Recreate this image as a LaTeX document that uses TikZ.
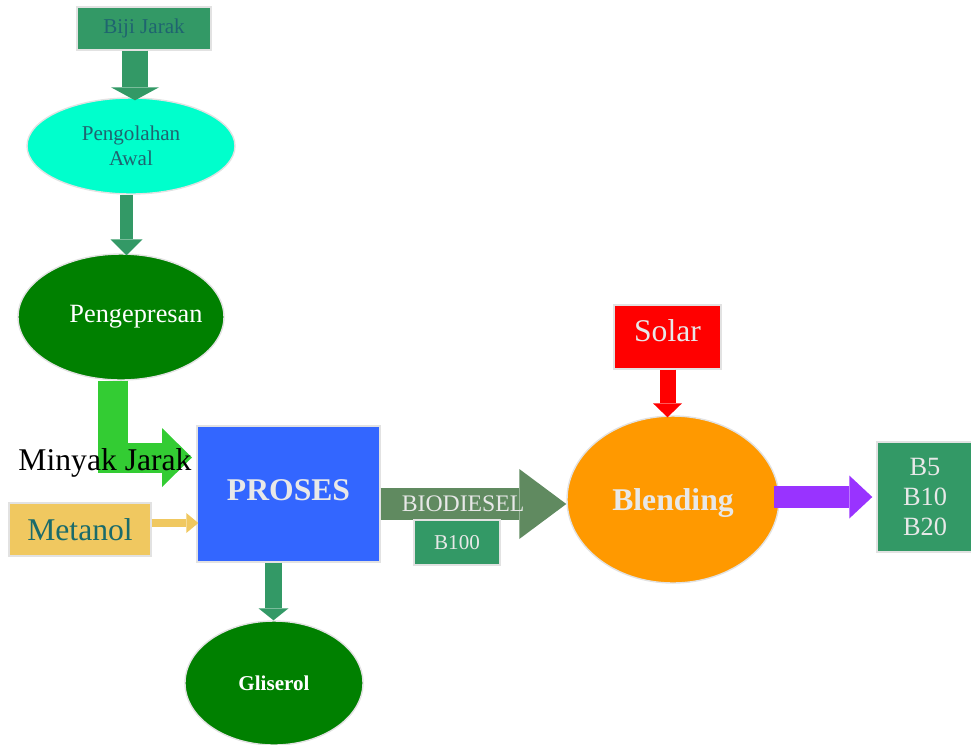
\documentclass[tikz,border=0pt]{standalone}
\usepackage{fontspec}
\setmainfont{Liberation Serif}
\usetikzlibrary{shapes.geometric,arrows.meta}

\definecolor{seagreen}{HTML}{339966}
\definecolor{aqua}{HTML}{00FFCC}
\definecolor{dgreen}{HTML}{008000}
\definecolor{lgreen}{HTML}{33CC33}
\definecolor{pblue}{HTML}{3366FF}
\definecolor{sand}{HTML}{F0C860}
\definecolor{olive}{HTML}{608A60}
\definecolor{amber}{HTML}{FF9900}
\definecolor{violet}{HTML}{9933FF}
\definecolor{pale}{HTML}{E8E8E8}
\definecolor{rim}{HTML}{E2E2E2}
\definecolor{tealtext}{HTML}{1F6470}
\definecolor{metatext}{HTML}{1A6B6B}

\begin{document}
\begin{tikzpicture}[align=center,
    box/.style={draw=rim, line width=0.8pt, rectangle, inner sep=0pt},
    oval/.style={draw=rim, line width=0.8pt, ellipse, inner sep=0pt},
    flow/.style={line width=#1, line join=miter}]
      \useasboundingbox (0,0) rectangle (19.42,-14.88);
      % raw material side
      \node[box, fill=seagreen, minimum width=2.68cm, minimum height=0.86cm, text=tealtext, font=\fontsize{12}{14}\selectfont] (biji) at (2.88,-0.57) {Biji Jarak};
      \node[oval, fill=aqua, minimum width=4.16cm, minimum height=1.92cm, text=tealtext, font=\fontsize{12}{14}\selectfont] (pengolahan) at (2.62,-2.92) {Pengolahan\\ Awal};
      \node[oval, fill=dgreen, minimum width=4.12cm, minimum height=2.52cm, text=white, font=\fontsize{15}{18}\selectfont] (pengepresan) at (2.42,-6.34) {\makebox[0pt]{\hspace*{0.6cm}Pengepresan}};
      \node[box, fill=pblue, minimum width=3.66cm, minimum height=2.72cm, text depth=0.14cm, text=pale, font=\bfseries\fontsize{18}{21}\selectfont] (proses) at (5.77,-9.88) {PROSES};
      \node[box, fill=sand, minimum width=2.84cm, minimum height=1.06cm, text=metatext, font=\fontsize{18}{21}\selectfont] (metanol) at (1.6,-10.59) {Metanol};
      \node[oval, fill=dgreen, minimum width=3.56cm, minimum height=2.48cm, text=white, font=\bfseries\fontsize{12}{14}\selectfont] (gliserol) at (5.48,-13.66) {Gliserol};

      % blending side
      \node[oval, fill=amber, minimum width=4.24cm, minimum height=3.34cm, text depth=0pt, text=pale, font=\bfseries\fontsize{18}{21}\selectfont] (blending) at (13.46,-9.99) {Blending};
      \node[box, fill=red, minimum width=2.14cm, minimum height=1.28cm, text depth=0.24cm, text=pale, font=\fontsize{18}{21}\selectfont] (solar) at (13.35,-6.74) {Solar};
      \node[box, fill=seagreen, minimum width=1.92cm, minimum height=2.2cm, text=pale, font=\fontsize{15}{17}\selectfont] (bvals) at (18.5,-9.94) {B5\\ B10\\ B20};

      \coordinate (mj) at (3.84,-9.15);

      \draw[flow=0.52cm, seagreen, -{Triangle[length=0.26cm, width=0.96cm, line width=0pt]}] ([xshift=-0.18cm]biji.south) -- ([xshift=-0.18cm, yshift=-0.06cm]biji.south |- pengolahan.north);
      \draw[flow=0.26cm, seagreen, -{Triangle[length=0.32cm, width=0.64cm, line width=0pt]}] ([xshift=-0.09cm]pengolahan.south) -- ([xshift=-0.09cm, yshift=-0.04cm]pengolahan.south |- pengepresan.north);
      \draw[flow=0.6cm, lgreen, -{Triangle[length=0.6cm, width=1.18cm, line width=0pt]}] ([xshift=-0.17cm]pengepresan.south) |- (mj);
      \draw[flow=0.16cm, sand, -{Triangle[length=0.24cm, width=0.4cm, line width=0pt]}] ([yshift=0.13cm]metanol.east) -- ([xshift=0.04cm, yshift=0.13cm]metanol.east -| proses.west);
      \draw[flow=0.34cm, seagreen, -{Triangle[length=0.24cm, width=0.6cm, line width=0pt]}] ([xshift=-0.3cm]proses.south) -- ([xshift=-0.3cm]proses.south |- gliserol.north);
      \draw[flow=0.64cm, olive, -{Triangle[length=0.94cm, width=1.4cm, line width=0pt]}] ([yshift=-0.2cm]proses.east) -- node[pos=0.444, text=pale, font=\fontsize{13.5}{16}\selectfont] (biodiesel) {BIODIESEL} ([yshift=-0.2cm]proses.east -| blending.west);
      \draw[flow=0.32cm, red, -{Triangle[length=0.28cm, width=0.58cm, line width=0pt]}] (solar.south) -- ([yshift=-0.04cm]solar.south |- blending.north);
      \draw[flow=0.44cm, violet, -{Triangle[length=0.46cm, width=0.86cm, line width=0pt]}] ([xshift=-0.12cm, yshift=0.05cm]blending.east) -- ([xshift=-0.08cm, yshift=0.05cm]blending.east -| bvals.west);

      \node[anchor=base, font=\fontsize{18}{21}\selectfont] (minyak) at (2.1,-9.40) {Minyak Jarak};
      \node[box, fill=seagreen, minimum width=1.72cm, minimum height=0.9cm, text=pale, font=\fontsize{12}{14}\selectfont] (b100) at (9.14,-10.85) {B100};
    \end{tikzpicture}
\end{document}
